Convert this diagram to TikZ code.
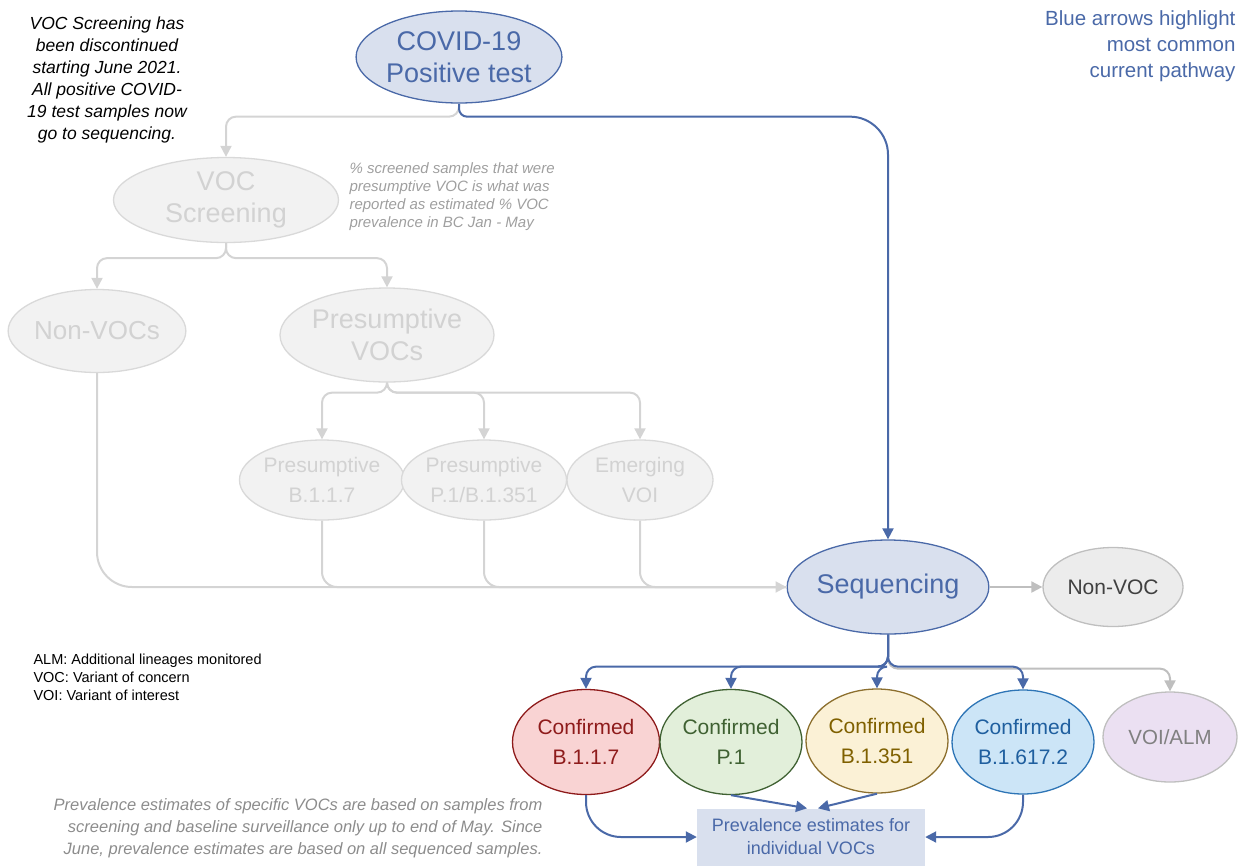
\documentclass[tikz,border=0pt]{standalone}
\usepackage{fontspec}
\setmainfont{Liberation Sans}
\usetikzlibrary{shapes.geometric,arrows.meta}
\definecolor{bl}{HTML}{4A69A8}
\definecolor{blf}{HTML}{D9E0EE}
\definecolor{gl}{HTML}{D4D4D4}
\definecolor{gd}{HTML}{D9D9D9}
\definecolor{gf}{HTML}{F2F2F2}
\definecolor{gt}{HTML}{D2D2D2}
\definecolor{gm}{HTML}{BFBFBF}
\definecolor{rd}{HTML}{8E1B1B}
\definecolor{rf}{HTML}{F9D3D3}
\definecolor{gn}{HTML}{3F6132}
\definecolor{gnf}{HTML}{E2EFDA}
\definecolor{yd}{HTML}{7F6000}
\definecolor{yl}{HTML}{8C6F2E}
\definecolor{yf}{HTML}{FBF1D6}
\definecolor{cd}{HTML}{1F5F9F}
\definecolor{cl}{HTML}{2E75B6}
\definecolor{cf}{HTML}{CCE5F7}
\definecolor{vf}{HTML}{EBE0F2}
\begin{document}
\begin{tikzpicture}[x=1pt,y=-1pt,
  oval/.style={ellipse,draw,line width=1.3pt,inner sep=0pt,align=center},
  old/.style={oval,fill=gf,draw=gd,text=gt},
  big/.style={font=\fontsize{27}{32}\selectfont},
  small/.style={font=\fontsize{21}{30}\selectfont},
  gline/.style={draw=gl,line width=2pt,rounded corners=10pt},
  garr/.style={gline,-{Triangle[length=11pt,width=11pt]}},
  barr/.style={draw=bl,line width=2pt,rounded corners=10pt,-{Triangle[length=11pt,width=11pt]}}]
\useasboundingbox (0,0) rectangle (1244,865);
\node[oval,big,fill=blf,draw=bl,text=bl,minimum width=193pt,minimum height=92pt](pos) at (459,57){COVID-19\\Positive test};
\node[align=center,font=\fontsize{17.5}{22}\selectfont\itshape](n1) at (107,80){VOC Screening has\\been discontinued\\starting June 2021.\\All positive COVID-\\19 test samples now\\go to sequencing.};
\node[align=right,anchor=east,text=bl,font=\fontsize{20.5}{26}\selectfont](n2) at (1239,46){Blue arrows highlight\\most common\\current pathway};
\node[old,big,minimum width=225pt,minimum height=85pt](scr) at (226,200){VOC\\Screening};
\node[align=left,anchor=west,text=gray!75,font=\fontsize{15}{18}\selectfont\itshape](n3) at (346,197){\% screened samples that were\\presumptive VOC is what was\\reported as estimated \% VOC\\prevalence in BC Jan - May};
\node[old,font=\fontsize{26}{32}\selectfont,minimum width=174pt,minimum height=83pt](nv) at (97,331){Non-VOCs};
\node[old,big,minimum width=214pt,minimum height=94pt](pv) at (387,335){Presumptive\\VOCs};
\node[old,small,minimum width=156pt,minimum height=80pt](p1) at (322,480){Presumptive\\B.1.1.7};
\node[old,small,minimum width=154pt,minimum height=80pt](p2) at (484,480){Presumptive\\P.1/B.1.351};
\node[old,small,minimum width=146pt,minimum height=80pt](p3) at (640,480){Emerging\\VOI};
\node[oval,big,fill=blf,draw=bl,text=bl,minimum width=192pt,minimum height=94pt](seq) at (888,587){Sequencing};
\node[oval,fill=gray!15,draw=gm,text=black!75,font=\fontsize{21}{26}\selectfont,minimum width=140pt,minimum height=79pt](nvoc) at (1113,587){Non-VOC};
\node[oval,small,fill=rf,draw=rd,text=rd,minimum width=147pt,minimum height=105pt](c1) at (586,742){Confirmed\\B.1.1.7};
\node[oval,small,fill=gnf,draw=gn,text=gn,minimum width=142pt,minimum height=105pt](c2) at (731,742){Confirmed\\P.1};
\node[oval,small,fill=yf,draw=yl,text=yd,minimum width=142pt,minimum height=104pt](c3) at (877,741){Confirmed\\B.1.351};
\node[oval,small,fill=cf,draw=cl,text=cd,minimum width=142pt,minimum height=104pt](c4) at (1023,742){Confirmed\\B.1.617.2};
\node[oval,fill=vf,draw=gm,text=gray,font=\fontsize{20.5}{26}\selectfont,minimum width=134pt,minimum height=90pt](voi) at (1170,737){VOI/ALM};
\node[fill=blf,text=bl,align=center,font=\fontsize{18}{23}\selectfont,minimum width=228pt,minimum height=57pt,inner sep=0pt](est) at (811,837){Prevalence estimates for\\individual VOCs};
\node[align=left,anchor=west,font=\fontsize{14.5}{18}\selectfont](lg) at (30,677){ALM: Additional lineages monitored\\VOC: Variant of concern\\VOI: Variant of interest};
\node[align=right,anchor=east,text=gray!90,font=\fontsize{16.5}{22}\selectfont\itshape](n4) at (546,828){Prevalence estimates of specific VOCs are based on samples from\\screening and baseline surveillance only up to end of May. Since\\June, prevalence estimates are based on all sequenced samples.};
\draw[garr] (pos.south) -- ++(0,13) -| (scr.north);
\draw[barr,rounded corners=8pt] (pos.south) -- ++(0,13) [rounded corners=38pt] -| (seq.north);
\draw[garr] (scr.south) -- ++(0,15) -| (nv.north);
\draw[garr] (scr.south) -- ++(0,15) -| (pv.north);
\draw[garr] (pv.south) -- ++(0,10) -| (p1.north);
\draw[garr] (pv.south) -- ++(0,10) -| (p2.north);
\draw[garr] (pv.south) -- ++(0,10) -| (p3.north);
\draw[gline,rounded corners=15pt] (p1.south) |- (seq.west);
\draw[gline,rounded corners=15pt] (p2.south) |- (seq.west);
\draw[gline,rounded corners=15pt] (p3.south) |- (seq.west);
\draw[garr,rounded corners=35pt] (nv.south) |- (seq.west);
\draw[garr,draw=gm] (seq.east) -- (nvoc.west);
\draw[garr,draw=gm] (seq.south) -- ++(0,34) -| (voi.north);
\draw[barr] (seq.south) -- ++(0,32) -| (c1.north);
\draw[barr] (seq.south) -- ++(0,32) -| (c2.north);
\draw[barr] (seq.south) -- ++(0,32) -| (c3.north);
\draw[barr] (seq.south) -- ++(0,32) -| (c4.north);
\draw[barr,rounded corners=35pt] (c1.south) |- (est.west);
\draw[barr,rounded corners=35pt] (c4.south) |- (est.east);
\draw[barr] (c2.south) -- ([xshift=-4pt]est.north);
\draw[barr] (c3.south) -- ([xshift=7pt]est.north);
\end{tikzpicture}
\end{document}
